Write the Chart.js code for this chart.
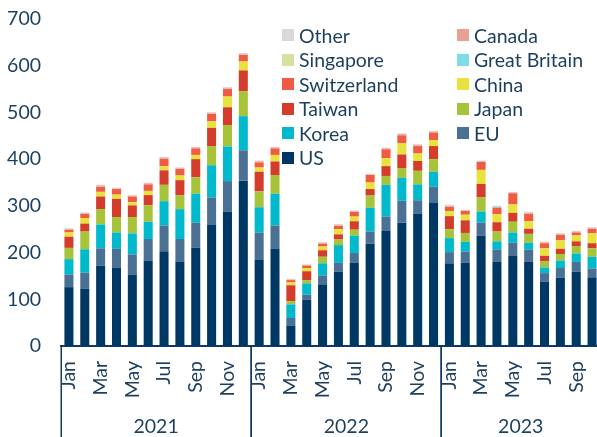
<!DOCTYPE html>
<html lang="en">
<head>
  <meta charset="UTF-8">
  <title>Monthly stacked bars by country, 2021-2023</title>
  <script src="https://cdn.jsdelivr.net/npm/chart.js@4.4.4/dist/chart.umd.min.js"></script>
  <style>
    html, body {
      margin: 0;
      padding: 0;
      background: #fff;
      overflow: hidden;
    }
    #wrap {
      position: relative;
      width: 600px;
      height: 437px;
    }
    #legend {
      position: absolute;
      left: 282px;
      top: 23px;
      font-family: Lato, "Noto Sans", sans-serif;
      font-size: 19.5px;
      color: #1d3f5e;
      display: grid;
      grid-template-columns: 175px 140px;
      grid-auto-rows: 24.5px;
    }
    .item {
      display: flex;
      align-items: center;
      white-space: nowrap;
    }
    .box {
      width: 12px;
      height: 12px;
      margin-right: 5px;
      flex: none;
    }
  </style>
</head>
<body>
  <div id="wrap">
    <canvas id="chart" width="600" height="437"></canvas>
    <div id="legend"></div>
  </div>
  <script>
    const months = ['Jan', 'Feb', 'Mar', 'Apr', 'May', 'Jun', 'Jul', 'Aug', 'Sep', 'Oct', 'Nov', 'Dec'];
    const years = ['2021', '2022', '2023'];
    const monthsPerYear = [12, 12, 10];
    const yTicks = [0, 100, 200, 300, 400, 500, 600, 700];

    // values, Jan 2021 .. Oct 2023
    const us = [126, 123, 172, 168, 153, 183, 203, 181, 211, 260, 288, 354,
                185, 208, 44, 99, 132, 159, 178, 219, 246, 264, 283, 307,
                177, 178, 236, 180, 193, 180, 138, 146, 159, 147];
    const eu = [27, 34, 37, 40, 43, 46, 55, 48, 53, 58, 65, 65,
                58, 50, 16, 11, 19, 19, 21, 26, 31, 47, 29, 34,
                24, 24, 28, 26, 28, 26, 18, 21, 21, 19];
    const korea = [33, 50, 51, 35, 45, 37, 52, 64, 62, 69, 74, 73,
                   54, 68, 29, 24, 26, 38, 37, 51, 68, 49, 34, 32,
                   30, 21, 24, 18, 22, 15, 12, 16, 18, 25];
    const japan = [24, 38, 33, 33, 35, 35, 35, 30, 35, 41, 46, 53,
                   34, 40, 7, 7, 14, 12, 13, 26, 19, 21, 29, 27,
                   19, 19, 30, 21, 23, 19, 13, 14, 16, 18];
    const taiwan = [24, 17, 27, 39, 25, 22, 31, 32, 39, 39, 38, 45,
                    42, 29, 34, 19, 14, 11, 18, 14, 21, 29, 21, 28,
                    28, 27, 29, 20, 19, 11, 12, 11, 10, 11];
    const china = [9, 12, 10, 9, 7, 9, 9, 10, 9, 14, 23, 19,
                   9, 14, 6, 7, 8, 11, 10, 14, 17, 24, 16, 13,
                   11, 12, 30, 17, 18, 16, 16, 18, 13, 21];
    const switzerland = [6, 9, 11, 12, 12, 14, 16, 14, 14, 16, 16, 14,
                         11, 14, 5, 5, 6, 7, 10, 16, 19, 17, 16, 16,
                         9, 8, 17, 14, 24, 16, 11, 12, 6, 10];
    const greatBritain = [0.3, 0.3, 0.3, 0.3, 0.3, 0.3, 0.3, 0.3, 0.3, 0.3, 0.3, 0.3,
                          0.3, 0.3, 0.3, 0.3, 0.3, 0.3, 0.3, 0.3, 0.3, 0.3, 0.3, 0.3,
                          0.3, 0.3, 0.3, 2.5, 0.3, 0.3, 0.3, 0.3, 0.3, 0.3];
    const singapore = [0.3, 0.3, 1.2, 0.3, 0.3, 0.3, 0.3, 0.3, 0.3, 0.3, 0.3, 0.3,
                       0.3, 0.3, 0.3, 0.3, 0.3, 0.3, 0.3, 0.3, 0.3, 0.3, 0.3, 0.3,
                       0.3, 0.3, 0.3, 0.3, 0.3, 0.3, 0.3, 0.3, 0.3, 0.3];
    const canada = [1.2, 1.2, 1.3, 1.2, 1.2, 1.5, 1.8, 1.5, 1.5, 1.5, 1.8, 1.8,
                    1.8, 1.5, 1.2, 1.2, 1.5, 1.8, 1.5, 1.2, 1.5, 1.8, 1.8, 1.5,
                    1.8, 1.2, 1.2, 0.8, 1.2, 1.8, 1.5, 1.5, 1.5, 1.5];
    const other = [1.2, 1.2, 1.2, 1.2, 1.2, 1.4, 1.7, 1.5, 1.5, 1.5, 1.9, 1.9,
                   1.9, 1.5, 1.1, 1.1, 1.5, 1.9, 1.5, 1.1, 1.5, 1.9, 1.9, 1.5,
                   1.9, 1.1, 1.2, 0.7, 1.1, 1.9, 1.5, 1.5, 1.5, 1.5];

    const labels = [];
    years.forEach((y, i) => {
      for (let m = 0; m < monthsPerYear[i]; m++) labels.push(months[m] + ' ' + y);
    });

    // bottom to top
    const series = [
      { name: 'US', data: us, color: '#003865' },
      { name: 'EU', data: eu, color: '#4a7193' },
      { name: 'Korea', data: korea, color: '#00b9cc' },
      { name: 'Japan', data: japan, color: '#a6c33a' },
      { name: 'Taiwan', data: taiwan, color: '#d43d2c' },
      { name: 'China', data: china, color: '#e6e33c' },
      { name: 'Switzerland', data: switzerland, color: '#f15b44' },
      { name: 'Great Britain', data: greatBritain, color: '#7edce6' },
      { name: 'Singapore', data: singapore, color: '#d3e39d' },
      { name: 'Canada', data: canada, color: '#e9a093' },
      { name: 'Other', data: other, color: '#d9d9d9' }
    ];

    const textColor = '#1d3f5e';
    const axisColor = '#0f3b62';
    const fontFamily = 'Lato, "Noto Sans", sans-serif';

    // legend: reversed order, two columns
    const legend = document.getElementById('legend');
    series.slice().reverse().forEach(s => {
      const d = document.createElement('div');
      d.className = 'item';
      d.innerHTML = '<span class="box" style="background:' + s.color + '"></span>' + s.name;
      legend.appendChild(d);
    });

    // year labels and group separators under the x axis
    const yearGroups = {
      id: 'yearGroups',
      afterDraw(chart) {
        const x = chart.scales.x;
        const ctx = chart.ctx;
        const top = chart.chartArea.bottom;
        const bottom = chart.height;
        const half = (x.getPixelForValue(1) - x.getPixelForValue(0)) / 2;
        ctx.save();
        ctx.strokeStyle = axisColor;
        ctx.lineWidth = 1.5;
        ctx.fillStyle = textColor;
        ctx.font = '19.5px ' + fontFamily;
        ctx.textAlign = 'center';
        ctx.textBaseline = 'middle';
        let start = 0;
        years.forEach((y, i) => {
          const end = start + monthsPerYear[i] - 1;
          const left = x.getPixelForValue(start) - half;
          const right = x.getPixelForValue(end) + half;
          [left, right].forEach(px => {
            ctx.beginPath();
            ctx.moveTo(Math.round(px) + 0.25, top);
            ctx.lineTo(Math.round(px) + 0.25, bottom);
            ctx.stroke();
          });
          ctx.fillText(y, (left + right) / 2, 427);
          start = end + 1;
        });
        ctx.restore();
      }
    };

    new Chart(document.getElementById('chart'), {
      type: 'bar',
      data: {
        labels: labels,
        datasets: series.map(s => ({
          label: s.name,
          data: s.data,
          backgroundColor: s.color,
          borderWidth: 0,
          barPercentage: 0.57,
          categoryPercentage: 1
        }))
      },
      options: {
        responsive: false,
        animation: false,
        layout: { padding: { top: 19, right: 0, left: 0, bottom: 0 } },
        plugins: {
          legend: { display: false },
          tooltip: { enabled: false }
        },
        scales: {
          x: {
            stacked: true,
            grid: { display: false, drawTicks: false },
            border: { display: true, color: axisColor, width: 2 },
            afterFit: s => { s.height = 91; s.paddingRight = 0; s.paddingLeft = 0; },
            ticks: {
              autoSkip: false,
              minRotation: 90,
              maxRotation: 90,
              padding: 15,
              color: textColor,
              font: { family: fontFamily, size: 19.5 },
              callback: function (v, i) {
                return i % 2 === 0 ? this.getLabelForValue(v).split(' ')[0] : '';
              }
            }
          },
          y: {
            stacked: true,
            min: 0,
            max: 700,
            grid: { display: false, drawTicks: false },
            border: { display: false },
            afterFit: s => { s.width = 61; s.paddingTop = 0; s.paddingBottom = 0; },
            afterBuildTicks: s => { s.ticks = yTicks.map(v => ({ value: v })); },
            ticks: {
              padding: 20,
              color: textColor,
              font: { family: fontFamily, size: 19.5 }
            }
          }
        }
      },
      plugins: [yearGroups]
    });
  </script>
</body>
</html>
